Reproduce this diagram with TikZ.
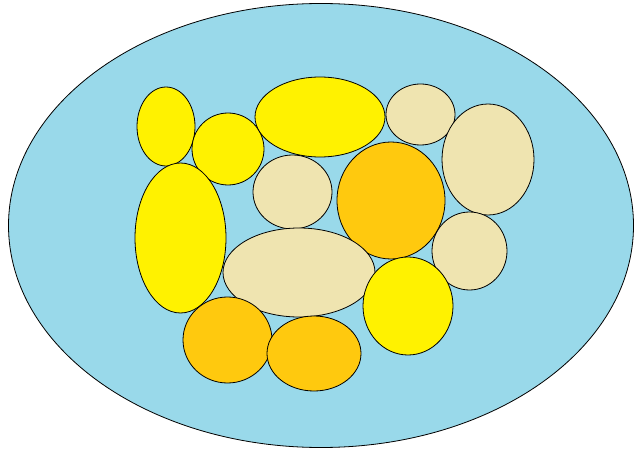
\documentclass[tikz,border=0pt]{standalone}
\begin{document}
\begin{tikzpicture}[x=1pt,y=-1pt]
\definecolor{sky}{RGB}{153,217,234}
\definecolor{yel}{RGB}{255,242,0}
\definecolor{bei}{RGB}{239,228,176}
\definecolor{ora}{RGB}{255,201,14}
\tikzset{blob/.style={draw=black,line width=0.8pt}}
\useasboundingbox (0,0) rectangle (634,449);
\fill[white] (0,0) rectangle (634,449);
\draw[blob,fill=sky] (321,225.5) ellipse [x radius=312.5, y radius=222];
\draw[blob,fill=yel] (166,126.5) ellipse [x radius=29, y radius=39.5];
\draw[blob,fill=yel] (228,149) ellipse [x radius=36, y radius=36];
\draw[blob,fill=yel] (320,117) ellipse [x radius=65, y radius=40];
\draw[blob,fill=bei] (420.5,114.5) ellipse [x radius=34.5, y radius=30.5];
\draw[blob,fill=bei] (488,159.5) ellipse [x radius=46, y radius=55.5];
\draw[blob,fill=yel] (180.5,238) ellipse [x radius=45.5, y radius=75];
\draw[blob,fill=bei] (292.5,192) ellipse [x radius=39.5, y radius=37];
\draw[blob,fill=ora] (391,200.5) ellipse [x radius=54, y radius=58.5];
\draw[blob,fill=bei] (469.5,251) ellipse [x radius=37.5, y radius=39];
\draw[blob,fill=bei] (299,272.5) ellipse [x radius=76, y radius=44.5];
\draw[blob,fill=yel] (408,306) ellipse [x radius=45, y radius=49];
\draw[blob,fill=ora] (227.5,340) ellipse [x radius=44.5, y radius=43];
\draw[blob,fill=ora] (314,353.5) ellipse [x radius=47, y radius=37.5];
\end{tikzpicture}
\end{document}
